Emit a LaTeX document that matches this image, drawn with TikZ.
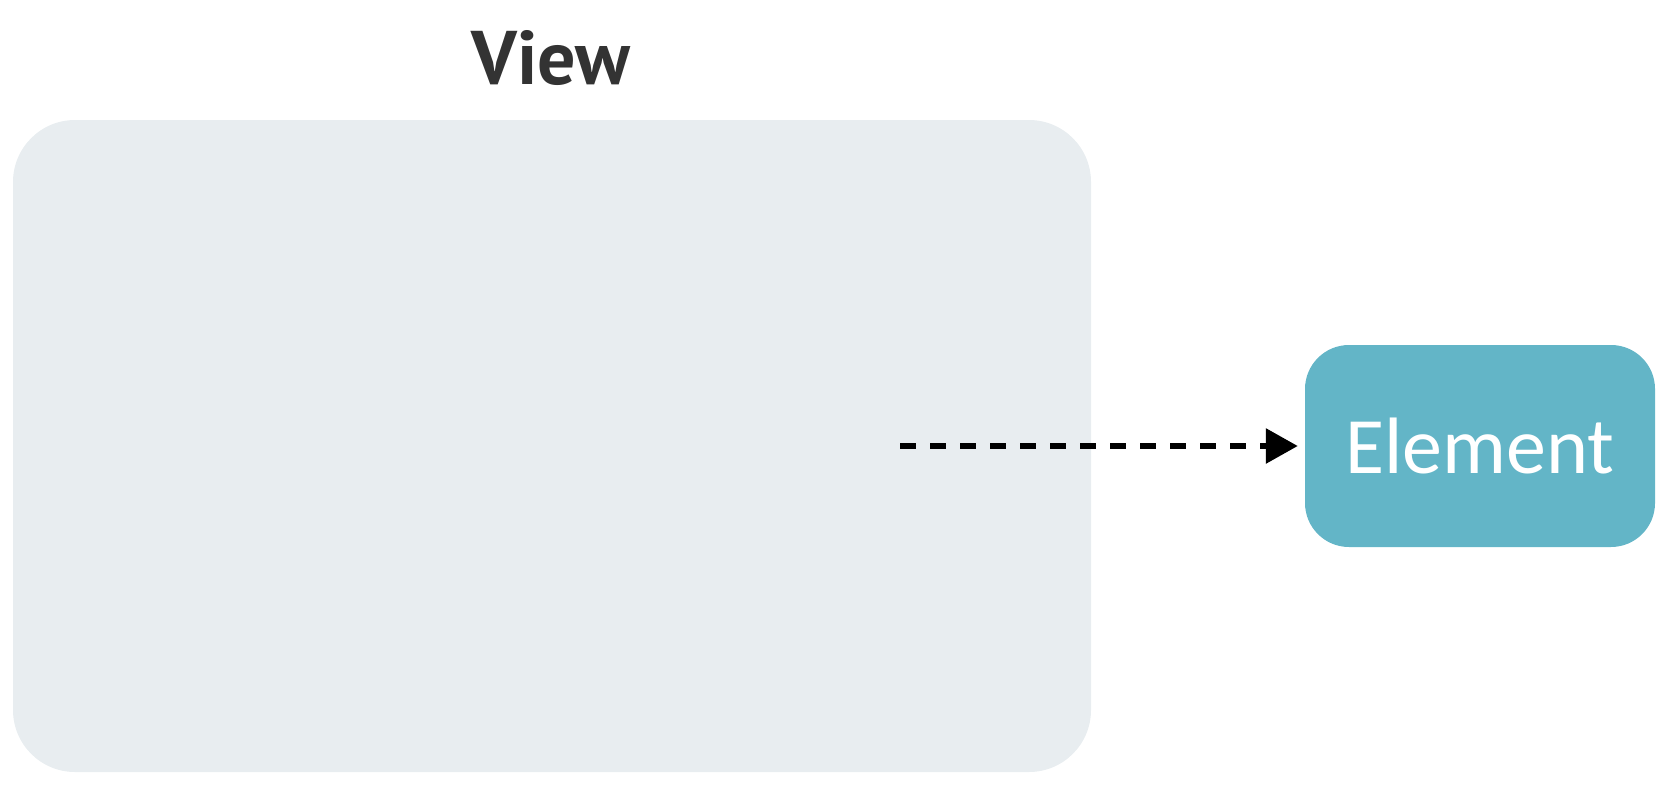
\documentclass[tikz,border=0pt]{standalone}
\usepackage{fontspec}
\setmainfont{PT Sans}
\newfontfamily\elfont{Carlito}
\usetikzlibrary{arrows.meta}
\definecolor{viewfill}{HTML}{E8EDF0}
\definecolor{elfill}{HTML}{63B5C7}
\definecolor{titlecol}{HTML}{333333}
\tikzset{
  viewbox/.style={fill=viewfill, draw=none, rounded corners=62pt},
  elbox/.style={fill=elfill, draw=none, rounded corners=44pt, text=white, font=\elfont\fontsize{80}{80}\selectfont},
  titletext/.style={text=titlecol, font=\bfseries\fontsize{76}{76}\selectfont},
  dasharrow/.style={line width=6pt, dash pattern=on 16pt off 14pt, shorten >=7pt, -{Triangle[length=32pt,width=34pt]}}
}
\begin{document}
\begin{tikzpicture}[x=1pt,y=-1pt]
\useasboundingbox (0,0) rectangle (1669,792);
\fill[viewbox] (13,120) rectangle (1091,772);
\node[inner sep=0pt, minimum width=1078pt, minimum height=652pt] (view) at (552,446) {};
\node[titletext, anchor=base] (title) at (551,84) {View};
\node[elbox, minimum width=350pt, minimum height=202pt, inner sep=0pt] (el) at (1480,446) {Element};
\coordinate (start) at (900,446);
\draw[dasharrow] (start) -- (el.west);
\end{tikzpicture}
\end{document}
